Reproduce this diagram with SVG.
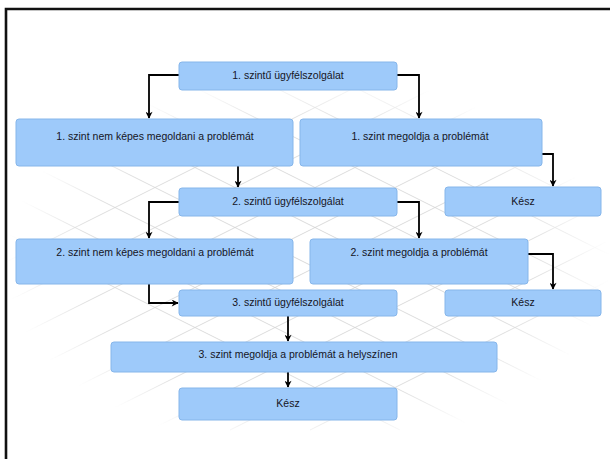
<svg xmlns="http://www.w3.org/2000/svg" width="610" height="459" viewBox="0 0 610 459">
<defs>
<style>
.box{fill:#9ecafa;stroke:#86b6ea;stroke-width:1}
.lbl{font-family:"Liberation Sans",Arial,sans-serif;font-size:10.5px;fill:#15151f;text-anchor:middle}
.conn{fill:none;stroke:#000;stroke-width:1.8}
.grid line{stroke:#cfcfcf;stroke-width:0.8}
</style>
<marker id="arr" viewBox="0 0 10 10" refX="9" refY="5" markerWidth="8" markerHeight="7" orient="auto" markerUnits="userSpaceOnUse">
<path d="M0,0 L10,5 L0,10 L3,5 Z" fill="#000"/>
</marker>
<radialGradient id="fade" cx="0.5" cy="0.5" r="0.5">
<stop offset="0" stop-color="#fff" stop-opacity="1"/>
<stop offset="0.75" stop-color="#fff" stop-opacity="0.85"/>
<stop offset="1" stop-color="#fff" stop-opacity="0"/>
</radialGradient>
<mask id="gm"><rect x="5" y="75" width="605" height="375" fill="url(#fade)"/></mask>
</defs>
<rect x="0" y="0" width="610" height="459" fill="#fff"/>
<g class="grid" mask="url(#gm)">
<line x1="-300" y1="80" x2="400" y2="430"/>
<line x1="-220" y1="80" x2="480" y2="430"/>
<line x1="-140" y1="80" x2="560" y2="430"/>
<line x1="-60" y1="80" x2="640" y2="430"/>
<line x1="20" y1="80" x2="720" y2="430"/>
<line x1="100" y1="80" x2="800" y2="430"/>
<line x1="180" y1="80" x2="880" y2="430"/>
<line x1="260" y1="80" x2="960" y2="430"/>
<line x1="340" y1="80" x2="1040" y2="430"/>
<line x1="-90" y1="430" x2="610" y2="80"/>
<line x1="-170" y1="430" x2="530" y2="80"/>
<line x1="-250" y1="430" x2="450" y2="80"/>
<line x1="-330" y1="430" x2="370" y2="80"/>
<line x1="-10" y1="430" x2="690" y2="80"/>
<line x1="70" y1="430" x2="770" y2="80"/>
<line x1="150" y1="430" x2="850" y2="80"/>
<line x1="230" y1="430" x2="930" y2="80"/>
<line x1="310" y1="430" x2="1010" y2="80"/>
</g>
<g id="frame">
<path d="M6,460 L6,9 L611,9" fill="none" stroke="#111" stroke-width="2.6"/>
</g>
<g id="connectors">
<path class="conn" d="M179,75 H149 V118" marker-end="url(#arr)"/>
<path class="conn" d="M397,75 H419 V118" marker-end="url(#arr)"/>
<path class="conn" d="M238,166 V187" marker-end="url(#arr)"/>
<path class="conn" d="M542,154 H553 V186" marker-end="url(#arr)"/>
<path class="conn" d="M179,202 H149 V238" marker-end="url(#arr)"/>
<path class="conn" d="M397,202 H419 V238" marker-end="url(#arr)"/>
<path class="conn" d="M528,254 H553 V289" marker-end="url(#arr)"/>
<path class="conn" d="M149,284 V303 H178" marker-end="url(#arr)"/>
<path class="conn" d="M288,316 V341" marker-end="url(#arr)"/>
<path class="conn" d="M288,372 V387" marker-end="url(#arr)"/>
</g>
<g id="n1"><rect class="box" x="179" y="62" width="218" height="28" rx="3"/><text class="lbl" x="288" y="79">1. szintű ügyfélszolgálat</text></g>
<g id="n2"><rect class="box" x="16" y="119" width="277" height="47" rx="3"/><text class="lbl" x="155" y="140">1. szint nem képes megoldani a problémát</text></g>
<g id="n3"><rect class="box" x="300" y="119" width="242" height="47" rx="3"/><text class="lbl" x="420" y="140">1. szint megoldja a problémát</text></g>
<g id="n4"><rect class="box" x="179" y="188" width="218" height="28" rx="3"/><text class="lbl" x="288" y="205">2. szintű ügyfélszolgálat</text></g>
<g id="n5"><rect class="box" x="445" y="187" width="156" height="29" rx="3"/><text class="lbl" x="523" y="205">Kész</text></g>
<g id="n6"><rect class="box" x="16" y="239" width="277" height="45" rx="3"/><text class="lbl" x="155" y="256">2. szint nem képes megoldani a problémát</text></g>
<g id="n7"><rect class="box" x="310" y="239" width="218" height="45" rx="3"/><text class="lbl" x="419" y="256">2. szint megoldja a problémát</text></g>
<g id="n8"><rect class="box" x="179" y="290" width="218" height="26" rx="3"/><text class="lbl" x="288" y="306">3. szintű ügyfélszolgálat</text></g>
<g id="n9"><rect class="box" x="445" y="290" width="156" height="26" rx="3"/><text class="lbl" x="523" y="306">Kész</text></g>
<g id="n10"><rect class="box" x="111" y="342" width="386" height="30" rx="3"/><text class="lbl" x="298" y="358">3. szint megoldja a problémát a helyszínen</text></g>
<g id="n11"><rect class="box" x="179" y="388" width="218" height="32" rx="3"/><text class="lbl" x="288" y="407">Kész</text></g>
</svg>
